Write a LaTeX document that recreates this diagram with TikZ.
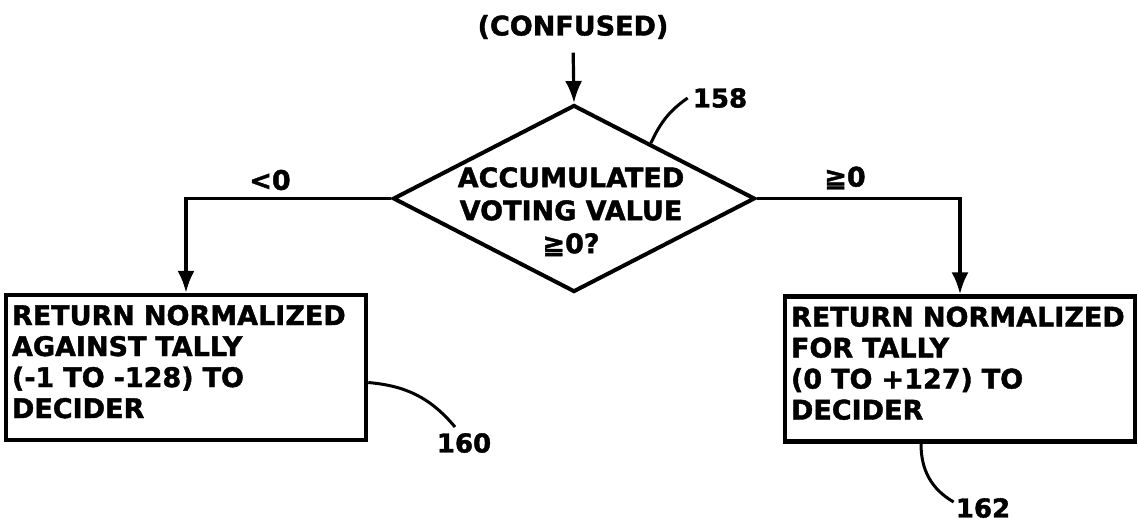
\documentclass[tikz,border=0pt]{standalone}
\usepackage{fontspec}
\setmainfont{DejaVu Sans}[BoldFeatures={FakeBold=1.5}]
\usetikzlibrary{arrows.meta,positioning,shapes.geometric,calc}

\newcommand{\lastdepth}{\rule[-12pt]{0pt}{12pt}}

\begin{document}
\begin{tikzpicture}[x=1pt,y=1pt,
    every node/.style={font=\bfseries\fontsize{27}{31}\selectfont},
    decision/.style={draw,diamond,line width=4pt,minimum width=362pt,minimum height=187pt,inner sep=0pt},
    dectext/.style={align=center,inner sep=0pt,font=\bfseries\fontsize{27}{33}\selectfont},
    tallybox/.style={draw,line width=4.5pt,align=left,inner xsep=6pt,text width=#1,minimum height=145pt},
    branch/.style={font=\bfseries\fontsize{27}{29}\selectfont,inner sep=1pt},
    refnum/.style={font=\bfseries\fontsize{26}{28}\selectfont,inner sep=2pt},
    flow/.style={-{Latex[length=22pt,width=17pt]},line width=3.2pt},
    leader/.style={line width=3pt}]
  \useasboundingbox (0,0) rectangle (1138,-531);
  \node (start) at (573,-27) {(CONFUSED)};
  \node[decision] (dec) at (574,-198.5) {};
  \node[dectext,anchor=north] (dectxt) at ([xshift=-3pt,yshift=31.5pt]dec.center) {ACCUMULATED\\VOTING VALUE\\≧0?};
  \node[tallybox=348pt] (lbox) at (186,-367.5) {RETURN NORMALIZED\\AGAINST TALLY\\(-1 TO -128) TO\\DECIDER\lastdepth};
  \node[tallybox=338pt] (rbox) at (960,-369) {RETURN NORMALIZED\\FOR TALLY\\(0 TO +127) TO\\DECIDER\lastdepth};
  \node[branch] (neg) at (270,-180) {<0};
  \node[branch] (pos) at (845,-178) {≧0};
  \node[refnum] (l158) at (720,-98) {158};
  \node[refnum] (l160) at (464,-443) {160};
  \node[refnum] (l162) at (983,-508) {162};
  % flow lines
  \draw[flow,shorten <=10pt] (start.south) -- (dec.north);
  \draw[flow] (dec.west) -| (lbox.north);
  \draw[flow] (dec.east) -| (rbox.north);
  % reference leaders
  \draw[leader] ($(dec.north)!0.42!(dec.east)$) to[out=65,in=215] ([xshift=-3pt]l158.west);
  \draw[leader] ([yshift=-15pt]lbox.east) to[out=-5,in=130] ([xshift=-9pt,yshift=4pt]l160.north);
  \draw[leader] ([xshift=-39pt]rbox.south) to[out=-90,in=150] ([yshift=6pt]l162.west);
\end{tikzpicture}
\end{document}
